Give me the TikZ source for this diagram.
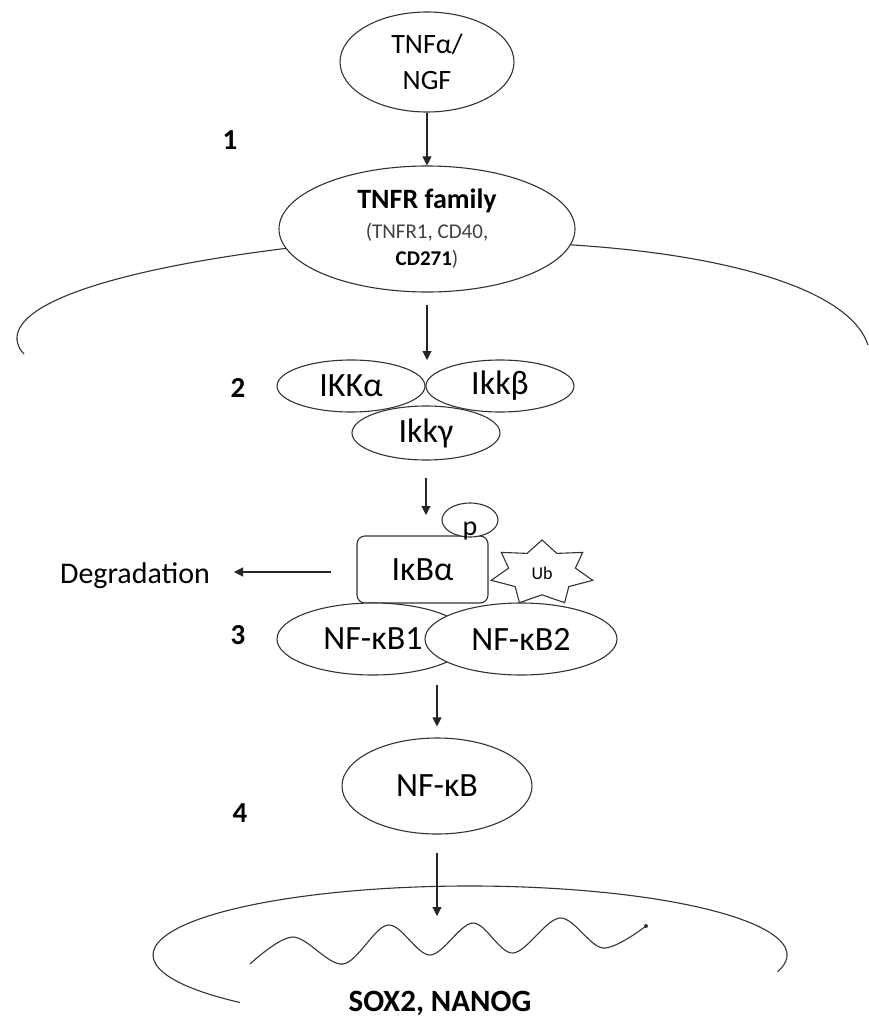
\documentclass[tikz,border=0pt]{standalone}
\usepackage{fontspec}
\setmainfont{Carlito}
\usetikzlibrary{shapes.geometric,arrows.meta}
\begin{document}
\begin{tikzpicture}[x=1pt,y=1pt,
  line/.style={draw=black!80, line width=1.1pt},
  ell/.style={ellipse, line, fill=white, inner sep=0pt},
  arr/.style={line width=1.1pt, draw=black!85, -{Triangle[length=9pt,width=9pt]}},
  num/.style={inner sep=0pt, font=\fontsize{29}{30}\selectfont\bfseries},
  big/.style={font=\fontsize{34}{40}\selectfont},
  txt/.style={inner sep=0pt, font=\fontsize{30}{32}\selectfont},
]
\useasboundingbox (0,0) rectangle (869,-1019);

% cell membrane
\draw[line] (300,-247) -- (281,-249) .. controls (130,-268) and (14,-300) .. (17,-340) .. controls (18,-346) and (20,-350) .. (24,-354);
\draw[line] (555,-243) -- (573,-245) .. controls (730,-255) and (850,-290) .. (868,-345);

% ligand and receptor
\node[ell, minimum width=174pt, minimum height=100pt, align=center, font=\fontsize{28}{36}\selectfont] (tnf) at (427,-62) {TNFα/\\NGF};
\node[ell, minimum width=296pt, minimum height=126pt, align=center, font=\fontsize{21}{27}\selectfont] (tnfr) at (427,-229)
  {{\fontsize{28}{30}\selectfont\bfseries TNFR family}\\[3pt]
   {\color{black!75}(TNFR1, CD40,}\\
   {\bfseries CD271}{\color{black!75})}};

\node[num] (n1) at (230,-140) {1};
\node[num] (n2) at (238,-388) {2};
\node[num] (n3) at (238,-635) {3};
\node[num] (n4) at (240,-813) {4};

% IKK complex
\node[ell, big, minimum width=148pt, minimum height=52pt] (ikka) at (351,-386) {IKKα};
\node[ell, big, minimum width=148pt, minimum height=52pt] (ikkb) at (500,-386) {Ikkβ};
\node[ell, big, minimum width=148pt, minimum height=54pt] (ikkg) at (426,-433) {Ikkγ};

% IkB alpha, p, Ub
\node[line, fill=white, rounded corners=8pt, minimum width=131pt, minimum height=67pt, big] (ikb) at (422.5,-569.5) {IκBα};
\node[ell, minimum width=56pt, minimum height=34pt, font=\fontsize{28}{30}\selectfont] (p) at (470,-520) {\smash{\raisebox{-15pt}{p}}};
\draw[line, fill=white] (542,-540) -- (527.1,-553.4) -- (501.3,-552.4) -- (508.6,-568.1) -- (491.3,-580.3) -- (515.2,-586.6) -- (519.4,-602.7) -- (542,-594.8) -- (564.6,-602.7) -- (568.8,-586.6) -- (592.7,-580.3) -- (575.4,-568.1) -- (582.7,-552.4) -- (556.9,-553.4) -- cycle;
\node[inner sep=0pt, font=\fontsize{18}{20}\selectfont] (ub) at (542,-573) {Ub};

% NF-kB dimer
\node[ell, big, minimum width=192pt, minimum height=72pt] (nf1) at (373,-639) {NF-κB1};
\node[ell, big, minimum width=192pt, minimum height=72pt] (nf2) at (521,-639) {NF-κB2};

\node[txt] (deg) at (135,-576) {Degradation};

\node[ell, big, minimum width=190pt, minimum height=96pt] (nfkb) at (437,-786) {NF-κB};

% nucleus and gene
\draw[line] (470,-955) ++(-14:317pt and 69pt) arc[start angle=-14, end angle=223.5, x radius=317pt, y radius=69pt];
\draw[line] plot[smooth, tension=0.55] coordinates {(250,-964) (293,-937) (343,-964) (388,-925) (430,-955) (473,-923) (513,-953) (560,-918) (603,-948) (646,-926)};
\fill[black!80] (646,-926) circle (2pt);
\node[txt, font=\fontsize{31}{32}\selectfont\bfseries] (genes) at (440,-1003) {SOX2, NANOG};

% arrow end points
\coordinate (ikkin) at (427,-360);
\coordinate (ikbin) at (426,-515);
\coordinate (degtip) at (234,-572);
\coordinate (a3s) at (437,-685);
\coordinate (a4e) at (437,-916);

% connectors
\draw[arr] (tnf.south) -- (tnfr.north);
\draw[arr, shorten <=12pt] (tnfr.south) -- (ikkin);
\draw[arr, shorten <=17pt] (ikkg.south) -- (ikbin);
\draw[arr] ([xshift=-25pt,yshift=-2.5pt]ikb.west) -- (degtip);
\draw[arr, shorten >=11pt] (a3s) -- (nfkb.north);
\draw[arr, shorten <=18pt] (nfkb.south) -- (a4e);
\end{tikzpicture}
\end{document}
